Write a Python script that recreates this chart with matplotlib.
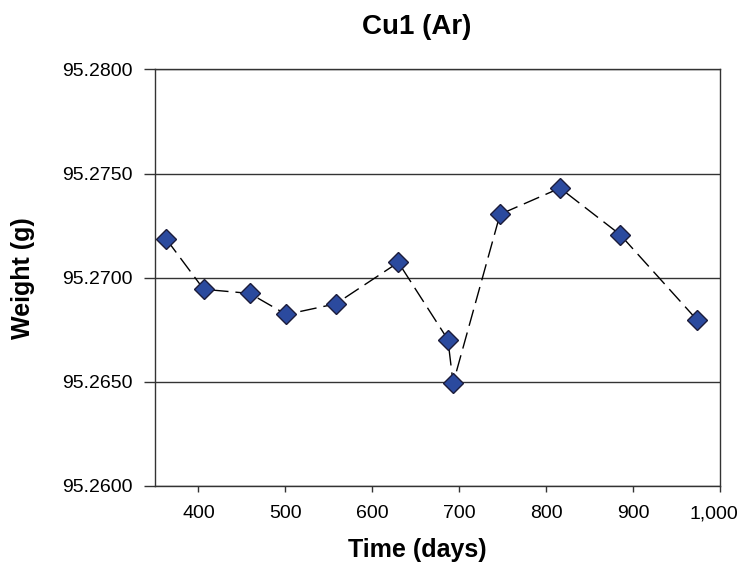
import matplotlib
matplotlib.use("Agg")
import matplotlib.pyplot as plt
import matplotlib.transforms as mtransforms
from matplotlib.ticker import FuncFormatter

plt.rcParams['font.family'] = ['Liberation Sans', 'DejaVu Sans']

# time in days, weight in g
days = [363, 406, 459, 501, 558, 630, 687, 693, 747, 816, 885, 974]
weight = [95.27185, 95.26944, 95.26924, 95.26823, 95.26874, 95.27073,
          95.26702, 95.26492, 95.27304, 95.27430, 95.27207, 95.26795]
xticks = [400, 500, 600, 700, 800, 900, 1000]
yticks = [95.26, 95.265, 95.27, 95.275, 95.28]

fig = plt.figure(figsize=(7.43, 5.69), dpi=100)
ax = fig.add_axes([0.2086, 0.1462, 0.7604, 0.7318])

ax.plot(days, weight, color='black', linewidth=1.0, linestyle=(0, (12, 5)),
        marker='D', markersize=10.5, markerfacecolor='#2B4A9E',
        markeredgecolor='#1C1C3A', markeredgewidth=1.0, zorder=3)

ax.set_xlim(350, 1000)
ax.set_ylim(95.26, 95.28)
ax.set_xticks(xticks)
ax.set_yticks(yticks)
ax.xaxis.set_major_formatter(FuncFormatter(lambda v, p: '{:,.0f}'.format(v)))
ax.yaxis.set_major_formatter(FuncFormatter(lambda v, p: '{:.4f}'.format(v)))
ax.yaxis.grid(True, color='#333333', linewidth=1.0)
ax.set_axisbelow(True)

for s in ax.spines.values():
    s.set_color('#333333')
    s.set_linewidth(1.0)

ax.tick_params(axis='y', direction='out', length=8, width=1.0, pad=8,
               labelsize=14, colors='#333333', labelcolor='black')
ax.tick_params(axis='x', direction='out', length=4, width=1.0, pad=10,
               labelsize=14, colors='#333333', labelcolor='black')

# last x label is pulled in a bit so it stays inside the picture
fig.canvas.draw()
last = ax.get_xticklabels()[-1]
last.set_transform(last.get_transform() +
                   mtransforms.ScaledTranslation(-6 / 100, 0, fig.dpi_scale_trans))

fig.text(417 / 743, 1 - 27 / 569, 'Cu1 (Ar)', ha='center', va='center',
         fontsize=20, fontweight='bold')
fig.text(417 / 743, 1 - 550 / 569, 'Time (days)', ha='center', va='center',
         fontsize=18, fontweight='bold')
fig.text(23 / 743, 1 - 278 / 569, 'Weight (g)', ha='center', va='center',
         rotation=90, fontsize=18, fontweight='bold')

fig.savefig('out.png', dpi=100)
